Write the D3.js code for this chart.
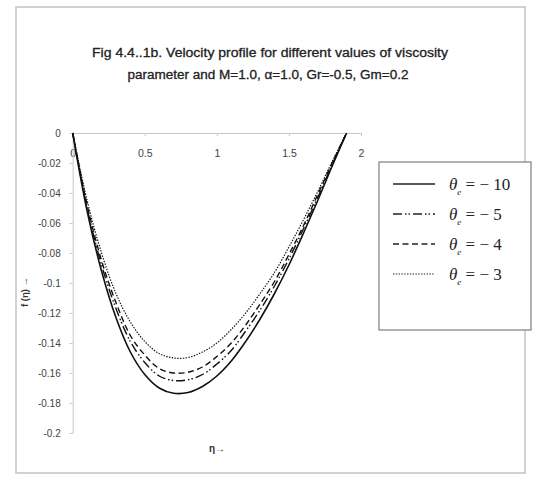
<!DOCTYPE html>
<html><head><meta charset="utf-8">
<script src="https://cdn.jsdelivr.net/npm/d3@7"></script>
<style>body{margin:0;background:#fff}svg{display:block}</style>
</head><body>
<svg id="c" width="533" height="477"></svg>
<script>
const eta = [0,0.1,0.2,0.3,0.4,0.5,0.6,0.7,0.8,0.9,1.0,1.1,1.2,1.3,1.4,1.5,1.6,1.7,1.8,1.9];
const fTheta10 = [0,-0.052,-0.092,-0.123,-0.146,-0.161,-0.170,-0.1735,-0.173,-0.169,-0.162,-0.152,-0.139,-0.124,-0.107,-0.088,-0.067,-0.045,-0.022,0];
const fTheta5  = [0,-0.050,-0.088,-0.117,-0.139,-0.153,-0.162,-0.165,-0.1645,-0.161,-0.154,-0.145,-0.132,-0.118,-0.102,-0.084,-0.064,-0.043,-0.021,0];
const fTheta4  = [0,-0.048,-0.085,-0.113,-0.135,-0.148,-0.157,-0.160,-0.1595,-0.156,-0.149,-0.140,-0.128,-0.114,-0.099,-0.081,-0.062,-0.041,-0.020,0];
const fTheta3  = [0,-0.045,-0.080,-0.107,-0.126,-0.139,-0.147,-0.150,-0.1497,-0.146,-0.140,-0.131,-0.120,-0.107,-0.093,-0.076,-0.058,-0.039,-0.019,0];
const seriesNames = ["\u2212 10","\u2212 5","\u2212 4","\u2212 3"];
const xTicks = [0,0.5,1,1.5,2];
const xTickLabels = ["0","0.5","1","1.5","2"];
const yTicks = [0,-0.02,-0.04,-0.06,-0.08,-0.1,-0.12,-0.14,-0.16,-0.18,-0.2];
const yTickLabels = ["0","-0.02","-0.04","-0.06","-0.08","-0.1","-0.12","-0.14","-0.16","-0.18","-0.2"];

const series = [fTheta10,fTheta5,fTheta4,fTheta3];
const dashes = [null,"9,3,1.5,2,1.5,3","6,3.5","1.4,1.4"];
const widths = [1.6,1.4,1.4,1.2];

const svg = d3.select("#c");
svg.append("rect").attr("x",16).attr("y",7).attr("width",509).attr("height",466)
  .attr("fill","none").attr("stroke","#c4c4c4").attr("stroke-width",1.5);

const tf = "'Liberation Sans Narrow','Liberation Sans',Arial,sans-serif";
svg.append("text").attr("x",270).attr("y",57).attr("text-anchor","middle")
  .attr("font-family",tf).attr("font-size",12.5).attr("fill","#222")
  .attr("stroke","#222").attr("stroke-width",0.3)
  .attr("textLength",356).attr("lengthAdjust","spacingAndGlyphs")
  .text("Fig 4.4..1b. Velocity profile for different values of viscosity");
svg.append("text").attr("x",268).attr("y",79).attr("text-anchor","middle")
  .attr("font-family",tf).attr("font-size",12.5).attr("fill","#222")
  .attr("stroke","#222").attr("stroke-width",0.3)
  .attr("textLength",281).attr("lengthAdjust","spacingAndGlyphs")
  .text("parameter and  M=1.0, \u03b1=1.0, Gr=-0.5, Gm=0.2");

const x = d3.scaleLinear().domain([0,2]).range([72.7,361]);
const y = d3.scaleLinear().domain([0,-0.2]).range([133,433]);

const xa = svg.append("g").attr("transform","translate(0,133)")
  .call(d3.axisBottom(x).tickValues(xTicks).tickFormat((d,i)=>xTickLabels[i]).tickSizeInner(3).tickSizeOuter(0).tickPadding(14));
xa.select(".domain").attr("stroke","#c8c8c8");
xa.selectAll(".tick line").attr("stroke","#c8c8c8");
xa.selectAll("text").attr("font-family",tf).attr("font-size",10.5).attr("fill","#444");

const ya = svg.append("g").attr("transform","translate(72.7,0)")
  .call(d3.axisLeft(y).tickValues(yTicks).tickFormat((d,i)=>yTickLabels[i]).tickSizeInner(3).tickSizeOuter(0).tickPadding(9));
ya.select(".domain").attr("stroke","#c8c8c8");
ya.selectAll(".tick line").attr("stroke","#c8c8c8");
ya.selectAll("text").attr("font-family",tf).attr("font-size",10).attr("fill","#444");

const line = d3.line().x((d,i)=>x(eta[i])).y(d=>y(d)).curve(d3.curveCatmullRom);
series.forEach((s,k)=>{
  svg.append("path").datum(s).attr("d",line).attr("fill","none")
    .attr("stroke","#111").attr("stroke-width",widths[k])
    .attr("stroke-dasharray",dashes[k]);
});

svg.append("text").attr("x",217).attr("y",452).attr("text-anchor","middle")
  .attr("font-family",tf).attr("font-size",10).attr("font-weight","bold").attr("fill","#333").text("\u03b7\u2192");
svg.append("text").attr("transform","translate(28,292) rotate(-90)").attr("text-anchor","middle")
  .attr("font-family",tf).attr("font-size",9.5).attr("font-weight","bold").attr("fill","#333").text("f (\u03b7) \u2192");

svg.append("rect").attr("x",379).attr("y",162).attr("width",152).attr("height",168)
  .attr("fill","#fff").attr("stroke","#888").attr("stroke-width",1.3);
const lg = svg.append("g");
series.forEach((s,k)=>{
  const cy = 184 + k*30;
  lg.append("line").attr("x1",393).attr("x2",435).attr("y1",cy).attr("y2",cy)
    .attr("stroke","#222").attr("stroke-width",widths[k]).attr("stroke-dasharray",dashes[k]);
  const t = lg.append("text").attr("x",449).attr("y",cy+6)
    .attr("font-family","'Liberation Serif','Times New Roman',serif").attr("font-size",17).attr("fill","#222");
  t.append("tspan").attr("font-style","italic").text("\u03b8");
  t.append("tspan").attr("font-style","italic").attr("font-size",9).attr("dy",5).text("e");
  t.append("tspan").attr("dy",-5).text(" = " + seriesNames[k]);
});
</script>
</body></html>
